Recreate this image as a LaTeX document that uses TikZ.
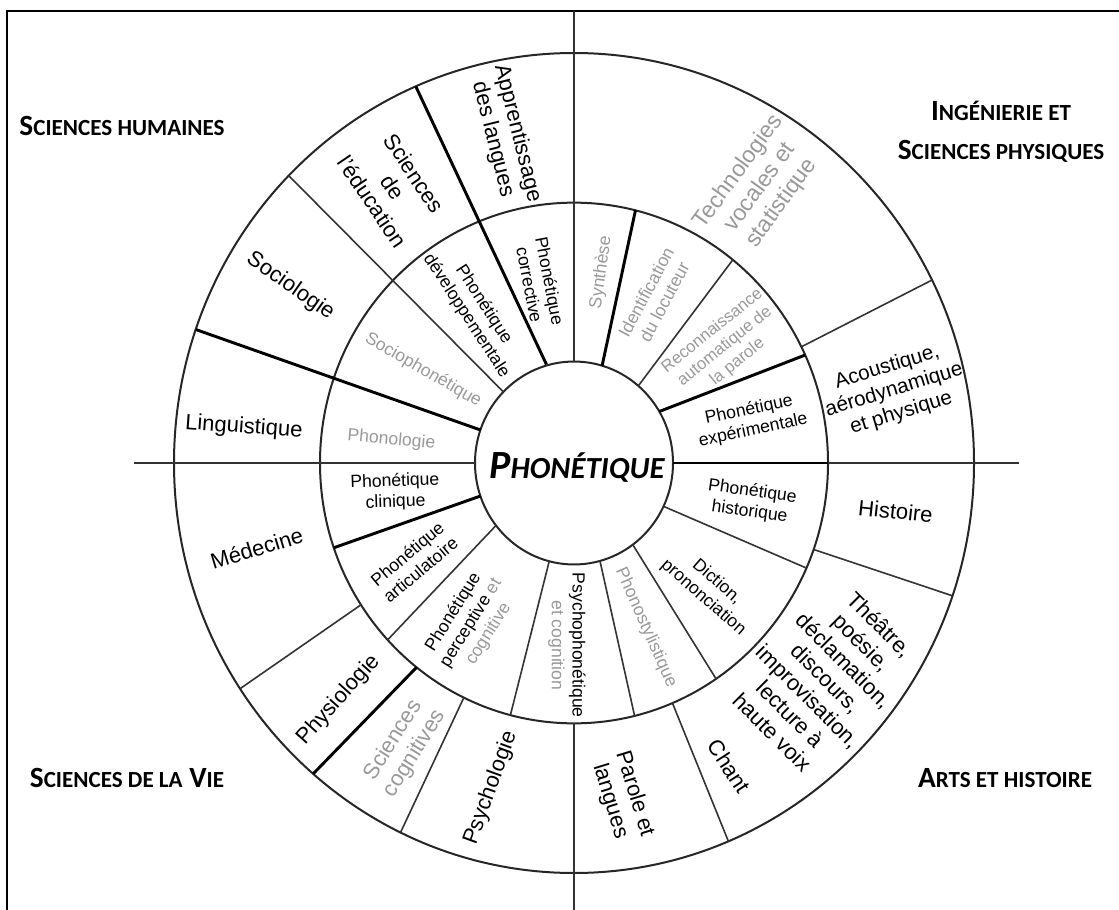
\documentclass[tikz,border=0pt]{standalone}
\usepackage{fontspec}
\setmainfont{Liberation Sans}
\newfontfamily\calibri{Carlito}
\usepackage{xcolor}
\definecolor{softgray}{gray}{0.6}
\newcommand{\lowcaps}[1]{{\fontsize{17.3}{19}\selectfont #1}}
\newcommand{\lowcapsbig}[1]{{\fontsize{23}{26}\selectfont #1}}

\begin{document}
\begin{tikzpicture}[x=0.75pt, y=-0.75pt,
  ring/.style={draw=black!85, line width=1.5pt},
  spoke/.style={draw=black!80, line width=1.2pt},
  boldspoke/.style={draw=black, line width=2.2pt},
  outertext/.style={font=\fontsize{16.5}{19}\selectfont, align=center, inner sep=0pt},
  innertext/.style={font=\fontsize{13.2}{15.5}\selectfont, align=center, inner sep=0pt},
  faint/.style={text=softgray},
  field/.style={font=\calibri\bfseries\fontsize{22}{29}\selectfont, align=center, inner sep=0pt}]
\useasboundingbox (0,0) rectangle (1119,909);
\draw[line width=1.9pt] (1125,11) -- (7,11) -- (7,915);

\node[field] (humaines) at (122,126) {S\lowcaps{CIENCES HUMAINES}};
\node[field] (ingenierie) at (1001,132) {I\lowcaps{NGÉNIERIE ET}\\S\lowcaps{CIENCES PHYSIQUES}};
\node[field] (vie) at (127,778) {S\lowcaps{CIENCES DE LA} V\lowcaps{IE}};
\node[field] (arts) at (1005,778) {A\lowcaps{RTS ET HISTOIRE}};

\begin{scope}[shift={(574,463)}, yscale=-1.025]
  \draw[ring] (0,0) circle (99) (0,0) circle (254) (0,0) circle (400);
  \draw[spoke] (180:99) -- (180:440);
  \draw[spoke] (0:254) -- (0:445);
  \draw[spoke] (90:99) -- (90:441);
  \draw[spoke] (270:254) -- (270:436);
  \draw[boldspoke] (0:99) -- (0:254);
  \draw[boldspoke] (30.5:99) -- (24.5:254);
  \draw[spoke] (49.5:99) -- (51.3:254);
  \draw[boldspoke] (73.5:99) -- (76:254);
  \draw[boldspoke] (106:100) -- (113.3:400);
  \draw[spoke] (135.5:99) -- (135.5:400);
  \draw[boldspoke] (161:99) -- (161:400);
  \draw[boldspoke] (199:99) -- (199:254);
  \draw[spoke] (218:99) -- (222.8:254);
  \draw[spoke] (255.5:99) -- (255.5:254);
  \draw[spoke] (-74.8:99) -- (-76.2:254);
  \draw[spoke] (-53.6:99) -- (-56:254);
  \draw[spoke] (-25.3:99) -- (-23.8:254);
  \draw[spoke] (26.5:254) -- (26.5:400);
  \draw[spoke] (213:254) -- (213.4:400);
  \draw[boldspoke] (231.7:254) -- (229.3:400);
  \draw[spoke] (244.3:254) -- (244.3:400);
  \draw[spoke] (-67.2:254) -- (-67.3:400);
  \draw[spoke] (-19.4:254) -- (-18.9:400);

  \node[font=\calibri\bfseries\itshape\fontsize{30}{32}\selectfont, inner sep=0pt] (phonetique) at (3,-4) {P\lowcapsbig{HONÉTIQUE}};

  \node[outertext, rotate=-76] (apprentissage) at (102.2:326) {Apprentissage\\des langues};
  \node[outertext, rotate=-56] (education) at (123.9:324) {Sciences\\de\\l'éducation};
  \node[outertext, rotate=-35] (sociologie) at (148.7:332) {Sociologie};
  \node[outertext, rotate=-4] (linguistique) at (174:332) {Linguistique};
  \node[outertext, rotate=17] (medecine) at (194.7:328) {Médecine};
  \node[outertext, rotate=48] (physiologie) at (224.5:330) {Physiologie};
  \node[outertext, faint, rotate=58] (cognitives) at (238.5:325) {Sciences\\cognitives};
  \node[outertext, rotate=70] (psychologie) at (255.3:328) {Psychologie};
  \node[outertext, rotate=-73] (parole) at (-81.6:330) {Parole et\\langues};
  \node[outertext, rotate=-57] (chant) at (-62.3:334) {Chant};
  \node[outertext, rotate=-45] (theatre) at (-39.8:328) {Théâtre,\\poésie,\\déclamation,\\discours,\\improvisation,\\lecture à\\haute voix};
  \node[outertext, rotate=-6] (histoire) at (-8.3:325) {Histoire};
  \node[outertext, font=\fontsize{15.5}{18}\selectfont, rotate=17] (acoustique) at (12.5:328) {Acoustique,\\aérodynamique\\et physique};
  \node[outertext, faint, font=\fontsize{17.3}{20}\selectfont, rotate=54] (technologies) at (55.3:327) {Technologies\\vocales et\\statistique};

  \node[innertext, rotate=-79] (corrective) at (101:179) {Phonétique\\corrective};
  \node[innertext, rotate=-57] (developpement) at (123.6:179) {Phonétique\\développementale};
  \node[innertext, faint, rotate=-30] (sociophon) at (149:176) {Sociophonétique};
  \node[innertext, faint, rotate=-5] (phonologie) at (173:184) {Phonologie};
  \node[innertext, rotate=2] (clinique) at (189:181) {Phonétique\\clinique};
  \node[innertext, rotate=40] (articulatoire) at (211:187) {Phonétique\\articulatoire};
  \node[innertext, rotate=58] (perceptive) at (236.6:187) {Phonétique\\perceptive \textcolor{softgray}{et}\\\textcolor{softgray}{cognitive}};
  \node[innertext, rotate=-90] (psychophon) at (267.7:178) {Psychophonétique\\\textcolor{softgray}{et cognition}};
  \node[innertext, faint, rotate=-66] (phonostyl) at (-65.9:176) {Phonostylistique};
  \node[innertext, rotate=-41] (diction) at (-42.3:184) {Diction,\\prononciation};
  \node[innertext, rotate=-8] (historique) at (-12.1:181) {Phonétique\\historique};
  \node[innertext, rotate=12] (experimentale) at (13.3:182) {Phonétique\\expérimentale};
  \node[innertext, faint, font=\fontsize{12.6}{15}\selectfont, rotate=39] (reconnaissance) at (37:189) {Reconnaissance\\automatique de\\la parole};
  \node[innertext, faint, rotate=62] (identification) at (63.4:181) {Identification\\du locuteur};
  \node[innertext, faint, rotate=82] (synthese) at (81.7:188) {Synthèse};
\end{scope}
\end{tikzpicture}
\end{document}
